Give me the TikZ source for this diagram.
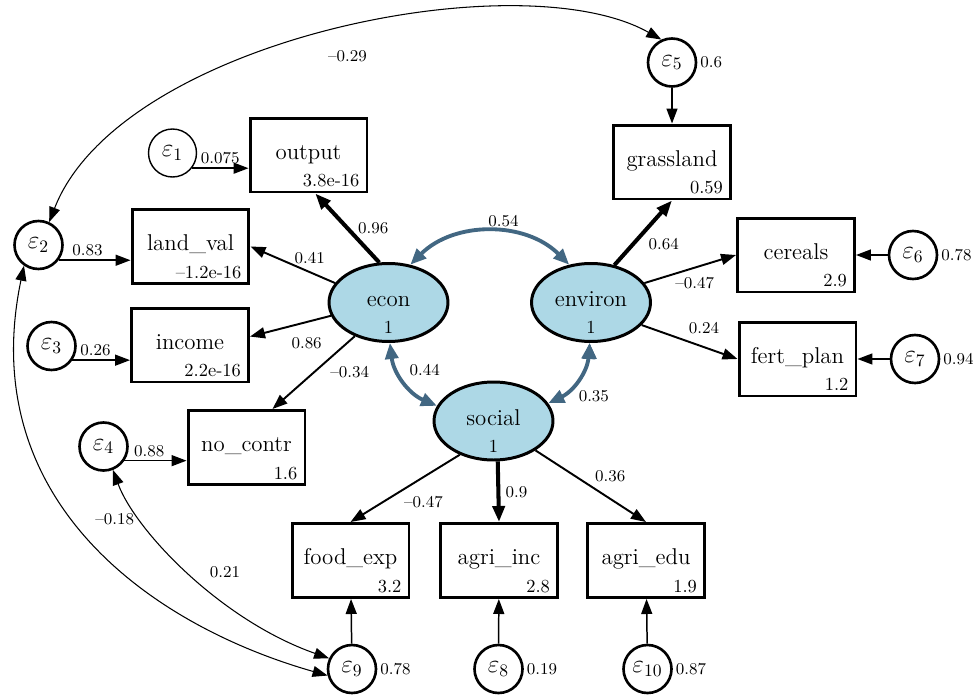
\documentclass[tikz,border=0pt]{standalone}
\usepackage{tikz}
\usetikzlibrary{arrows.meta}
\usetikzlibrary{shapes.geometric}
\definecolor{latfill}{RGB}{173,216,230}
\definecolor{covblue}{RGB}{66,103,130}
\tikzset{obs node/.style={rectangle,draw,line width=1.7pt,minimum width=2.34cm,minimum height=1.48cm,inner sep=0pt,text height=8pt,text depth=3pt,font=\fontsize{13}{15}\selectfont}}
\tikzset{lat node/.style={ellipse,draw,fill=latfill,line width=1.7pt,minimum width=2.38cm,minimum height=1.56cm,inner sep=0pt,text height=8pt,text depth=3pt,font=\fontsize{13}{15}\selectfont}}
\tikzset{err node/.style={circle,draw,line width=1.5pt,minimum size=0.96cm,inner sep=0pt,font=\fontsize{14}{15}\selectfont}}
\tikzset{val label/.style={anchor=south east,inner xsep=5pt,inner ysep=3.5pt,font=\fontsize{10.5}{12}\selectfont}}
\tikzset{one label/.style={anchor=south,inner sep=0pt,yshift=5pt,font=\fontsize{10.5}{12}\selectfont}}
\tikzset{var label/.style={inner sep=1.5pt,font=\fontsize{9.4}{11}\selectfont}}
\tikzset{lbl/.style={inner sep=2pt,font=\fontsize{9.4}{11}\selectfont}}
\tikzset{path arrow/.style={-{Triangle[length=0.3cm,width=0.22cm]},line width=1.1pt}}
\tikzset{bold arrow/.style={-{Triangle[length=0.32cm,width=0.24cm]},line width=2.3pt}}
\tikzset{err arrow/.style={-{Triangle[length=0.3cm,width=0.22cm]},line width=0.85pt}}
\tikzset{cov arrow/.style={{Triangle[length=0.3cm,width=0.22cm]}-{Triangle[length=0.3cm,width=0.22cm]},line width=0.6pt}}
\tikzset{lat cov/.style={{Triangle[length=0.32cm,width=0.26cm]}-{Triangle[length=0.32cm,width=0.26cm]},line width=2.2pt,draw=covblue,fill=covblue}}

\begin{document}
\begin{tikzpicture}[x=0.02cm,y=-0.02cm]
    \useasboundingbox (0,0) rectangle (979,696);

    % observed variables
    \node[obs node,label={[val label]south east:3.8e-16}] (output) at (308.5,155) {output};
    \node[obs node,label={[val label]south east:--1.2e-16}] (land_val) at (190.5,246.5) {land\_val};
    \node[obs node,label={[val label]south east:2.2e-16}] (income) at (190,345) {income};
    \node[obs node,label={[val label]south east:1.6}] (no_contr) at (246.5,447.5) {no\_contr};
    \node[obs node,label={[val label]south east:0.59}] (grassland) at (672,162) {grassland};
    \node[obs node,label={[val label]south east:2.9}] (cereals) at (796,255) {cereals};
    \node[obs node,label={[val label]south east:1.2}] (fert_plan) at (797.5,359) {fert\_plan};
    \node[obs node,label={[val label]south east:3.2}] (food_exp) at (350.5,560.5) {food\_exp};
    \node[obs node,label={[val label]south east:2.8}] (agri_inc) at (499,560.5) {agri\_inc};
    \node[obs node,label={[val label]south east:1.9}] (agri_edu) at (646,560.5) {agri\_edu};

    % latent variables
    \node[lat node,label={[one label]south:1}] (econ) at (388.5,302.5) {econ};
    \node[lat node,label={[one label]south:1}] (environ) at (591,302.5) {environ};
    \node[lat node,label={[one label]south:1}] (social) at (493.5,421) {social};

    % errors
    \node[err node,line width=0.8pt] (e_{1}) at (172.5,153) {$\varepsilon_{1}$};
    \node[err node] (e_{2}) at (38.5,245) {$\varepsilon_{2}$};
    \node[err node] (e_{3}) at (51.5,346) {$\varepsilon_{3}$};
    \node[err node] (e_{4}) at (103.5,446.5) {$\varepsilon_{4}$};
    \node[err node,label={[var label]right:0.6}] (e_{5}) at (672,62.5) {$\varepsilon_{5}$};
    \node[err node,label={[var label]right:0.78}] (e_{6}) at (913,255) {$\varepsilon_{6}$};
    \node[err node,label={[var label]right:0.94}] (e_{7}) at (915,359) {$\varepsilon_{7}$};
    \node[err node,label={[var label]right:0.19}] (e_{8}) at (498.5,669) {$\varepsilon_{8}$};
    \node[err node,label={[var label]right:0.78}] (e_{9}) at (352,669) {$\varepsilon_{9}$};
    \node[err node,label={[var label]right:0.87}] (e_{10}) at (647.5,669) {$\varepsilon_{10}$};

    \path [path arrow]
    (econ.160) edge node[lbl,pos=0.3,above=2pt] {0.41} (land_val.east)
    (econ.193) edge node[lbl,pos=0.3,below=6pt] {0.86} (income.8)
    (econ.225) edge node[lbl,pos=0.35,below right] {--0.34} (no_contr.56)
    (environ.20) edge node[lbl,pos=0.55,below=3pt] {--0.47} (cereals.west)
    (environ.-24) edge node[lbl,pos=0.65,above=5pt] {0.24} (fert_plan.west)
    (social.225) edge node[lbl,pos=0.55,below right] {--0.47} (food_exp.north)
    (social.-35) edge node[lbl,pos=0.5,above right] {0.36} (agri_edu.north);

    \path [bold arrow]
    (econ.103) edge node[lbl,pos=0.5,right=3pt] {0.96} (output.-80)
    (environ.58) edge node[lbl,pos=0.5,below right] {0.64} (grassland.south)
    (social.-84) edge node[lbl,pos=0.5,right=1pt] {0.9} (agri_inc.north);

    \path [err arrow]
    (e_{1}.-38) edge node[lbl,above] {0.075} (e_{1}.-38 -| output.west)
    (e_{2}.-37) edge node[lbl,pos=0.4,above] {0.83} (e_{2}.-37 -| land_val.west)
    (e_{3}.-34) edge node[lbl,pos=0.4,above] {0.26} (e_{3}.-34 -| income.west)
    (e_{4}.-34) edge node[lbl,pos=0.4,above] {0.88} (e_{4}.-34 -| no_contr.west)
    (e_{5}) edge (grassland)
    (e_{6}) edge (cereals)
    (e_{7}) edge (fert_plan)
    (e_{8}) edge (agri_inc)
    (e_{9}) edge (food_exp)
    (e_{10}) edge (agri_edu);

    \path [lat cov]
    (econ.60) edge[bend left=45] node[lbl,pos=0.58,above] {0.54} (environ.120)
    (econ.-88) edge[bend right=30] node[lbl,midway,above right] {0.44} (social.165)
    (environ.-92) edge[bend left=30] node[lbl,pos=0.6,below right] {0.35} (social.18);

    \draw [cov arrow] (e_{2}.65) .. controls (120,40) and (520,-40) .. (e_{5}.115)
        node[lbl,pos=0.52,below=10pt,xshift=2pt] {--0.29};
    \draw [cov arrow] (e_{2}.235) .. controls (-25,500) and (150,625) .. (e_{9}.195)
        node[lbl,pos=0.45,right=10pt] {--0.18};
    \draw [cov arrow] (e_{4}.-68) .. controls (135,530) and (220,620) .. (e_{9}.155)
        node[lbl,pos=0.5,right=10pt] {0.21};
\end{tikzpicture}
\end{document}
